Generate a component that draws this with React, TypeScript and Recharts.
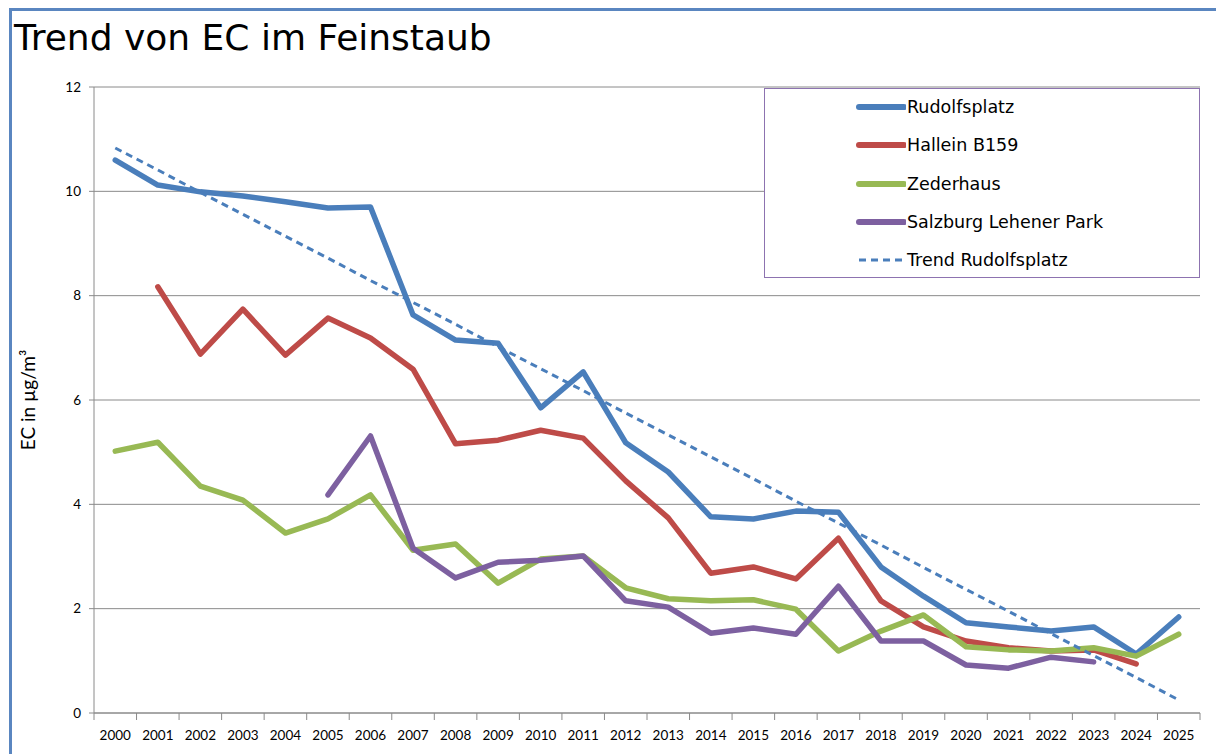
import React from 'react';
import { LineChart, Line, XAxis, YAxis, CartesianGrid, Legend, Label } from 'recharts';

const years = ['2000','2001','2002','2003','2004','2005','2006','2007','2008','2009','2010','2011','2012','2013','2014','2015','2016','2017','2018','2019','2020','2021','2022','2023','2024','2025'];

const rudolfsplatz = [10.6, 10.12, 9.99, 9.91, 9.8, 9.68, 9.7, 7.63, 7.15, 7.09, 5.85, 6.54, 5.18, 4.62, 3.76, 3.72, 3.87, 3.85, 2.8, 2.24, 1.73, 1.65, 1.57, 1.65, 1.13, 1.84];
const hallein = [null, 8.17, 6.88, 7.74, 6.86, 7.57, 7.19, 6.59, 5.16, 5.23, 5.42, 5.27, 4.45, 3.74, 2.68, 2.8, 2.57, 3.35, 2.15, 1.65, 1.38, 1.25, 1.19, 1.21, 0.94, null];
const zederhaus = [5.02, 5.19, 4.35, 4.08, 3.45, 3.72, 4.18, 3.12, 3.24, 2.49, 2.95, 3.01, 2.4, 2.19, 2.15, 2.17, 1.99, 1.19, 1.57, 1.88, 1.27, 1.21, 1.19, 1.25, 1.09, 1.51];
const lehener = [null, null, null, null, null, 4.18, 5.31, 3.16, 2.59, 2.89, 2.93, 3.01, 2.15, 2.03, 1.53, 1.63, 1.51, 2.43, 1.38, 1.38, 0.92, 0.86, 1.07, 0.98, null, null];
const trend = [10.83, 10.41, 9.98, 9.56, 9.14, 8.72, 8.29, 7.87, 7.45, 7.02, 6.6, 6.18, 5.75, 5.33, 4.91, 4.49, 4.06, 3.64, 3.22, 2.79, 2.37, 1.95, 1.52, 1.1, 0.68, 0.25];
const yTicks = [0, 2, 4, 6, 8, 10, 12];

const seriesInfo = [
  { key: 'rud', name: 'Rudolfsplatz', color: '#4A7EBB', dashed: false },
  { key: 'hal', name: 'Hallein B159', color: '#BE4B48', dashed: false },
  { key: 'zed', name: 'Zederhaus', color: '#98B954', dashed: false },
  { key: 'leh', name: 'Salzburg Lehener Park', color: '#7D60A0', dashed: false },
  { key: 'trend', name: 'Trend Rudolfsplatz', color: '#4A7EBB', dashed: true },
];

const data = years.map((y, i) => ({
  year: y,
  rud: rudolfsplatz[i],
  hal: hallein[i],
  zed: zederhaus[i],
  leh: lehener[i],
  trend: trend[i],
}));

const W = 1216;
const H = 754;
const PLOT_LEFT = 94;
const PLOT_RIGHT = 1200;
const PLOT_TOP = 87;
const PLOT_BOTTOM = 713;
const YAXIS_W = 60;
const XAXIS_H = 30;
const BW = (PLOT_RIGHT - PLOT_LEFT) / years.length;
const AXIS_COLOR = '#8A8A8A';
const TAHOMA = '"DejaVu Sans", sans-serif';
const CALIBRI = 'Lato, "Liberation Sans", sans-serif';

const XTick = (props: any) => {
  const { x, payload, index } = props;
  const isLast = index === years.length - 1;
  return (
    <g>
      <line x1={x - BW / 2} x2={x - BW / 2} y1={PLOT_BOTTOM} y2={PLOT_BOTTOM + 7} stroke={AXIS_COLOR} strokeWidth={1} />
      {isLast && (
        <line x1={x + BW / 2} x2={x + BW / 2} y1={PLOT_BOTTOM} y2={PLOT_BOTTOM + 7} stroke={AXIS_COLOR} strokeWidth={1} />
      )}
      <text x={x} y={PLOT_BOTTOM + 27} textAnchor="middle" fontSize={13.5} fontFamily={CALIBRI} fill="#000">
        {payload.value}
      </text>
    </g>
  );
};

const LegendBox = () => (
  <div
    style={{
      width: 436,
      height: 190,
      border: '1.5px solid #8D73B0',
      background: '#fff',
      position: 'relative',
      boxSizing: 'border-box',
    }}
  >
    {seriesInfo.map((s, i) => (
      <div
        key={s.key}
        style={{
          position: 'absolute',
          left: 91,
          top: 18 + i * 38.3 - 11,
          height: 22,
          display: 'flex',
          alignItems: 'center',
        }}
      >
        <svg width={50} height={10} style={{ display: 'block' }}>
          {s.dashed ? (
            <line x1={3} x2={48} y1={5} y2={5} stroke={s.color} strokeWidth={3} strokeDasharray="7 5" />
          ) : (
            <line x1={3} x2={48} y1={5} y2={5} stroke={s.color} strokeWidth={6} strokeLinecap="round" />
          )}
        </svg>
        <span style={{ fontFamily: TAHOMA, fontSize: 17.5, color: '#000', marginLeft: 1, whiteSpace: 'nowrap' }}>{s.name}</span>
      </div>
    ))}
  </div>
);

export default function App() {
  const midY = (PLOT_TOP + PLOT_BOTTOM) / 2;
  return (
    <div style={{ position: 'absolute', left: 0, top: 0, width: W, height: H, background: '#fff', overflow: 'hidden' }}>
      <div style={{ position: 'absolute', left: 9, top: 8, right: 0, bottom: 0, borderLeft: '3px solid #5A86C0', borderTop: '3px solid #5A86C0', boxSizing: 'border-box' }} />
      <div style={{ position: 'absolute', left: 14, top: 16, fontFamily: TAHOMA, fontSize: 36, lineHeight: '44px', color: '#000', whiteSpace: 'nowrap' }}>
        Trend von EC im Feinstaub
      </div>
      <div style={{ position: 'absolute', left: 0, top: 0 }}>
        <LineChart
          width={W}
          height={H}
          data={data}
          margin={{ top: PLOT_TOP, right: W - PLOT_RIGHT, left: PLOT_LEFT - YAXIS_W, bottom: H - PLOT_BOTTOM - XAXIS_H }}
        >
          <CartesianGrid vertical={false} stroke={AXIS_COLOR} strokeWidth={1} />
          <XAxis
            dataKey="year"
            height={XAXIS_H}
            padding={{ left: BW / 2, right: BW / 2 }}
            interval={0}
            tickLine={false}
            axisLine={{ stroke: AXIS_COLOR }}
            tick={<XTick />}
          />
          <YAxis
            width={YAXIS_W}
            domain={[0, 12]}
            ticks={yTicks}
            interval={0}
            tickSize={5}
            tickMargin={8}
            tickLine={{ stroke: AXIS_COLOR }}
            axisLine={{ stroke: AXIS_COLOR }}
            tick={{ fontSize: 13.5, fontFamily: CALIBRI, fill: '#000' }}
          >
            <Label
              content={() => (
                <text
                  x={27}
                  y={midY}
                  transform={`rotate(-90 27 ${midY})`}
                  textAnchor="middle"
                  dominantBaseline="central"
                  fontSize={19}
                  fontFamily={CALIBRI}
                  fill="#000"
                >
                  EC in µg/m³
                </text>
              )}
            />
          </YAxis>
          <Legend
            layout="horizontal"
            verticalAlign="middle"
            align="center"
            wrapperStyle={{ left: 764, top: 88, width: 436, height: 190 }}
            content={() => <LegendBox />}
          />
          {seriesInfo.map((s) => (
            <Line
              key={s.key}
              type="linear"
              dataKey={s.key}
              name={s.name}
              stroke={s.color}
              strokeWidth={s.dashed ? 3 : 5.5}
              strokeDasharray={s.dashed ? '7 5' : undefined}
              strokeLinecap={s.dashed ? 'butt' : 'round'}
              strokeLinejoin="round"
              dot={false}
              activeDot={false}
              isAnimationActive={false}
            />
          ))}
        </LineChart>
      </div>
    </div>
  );
}
